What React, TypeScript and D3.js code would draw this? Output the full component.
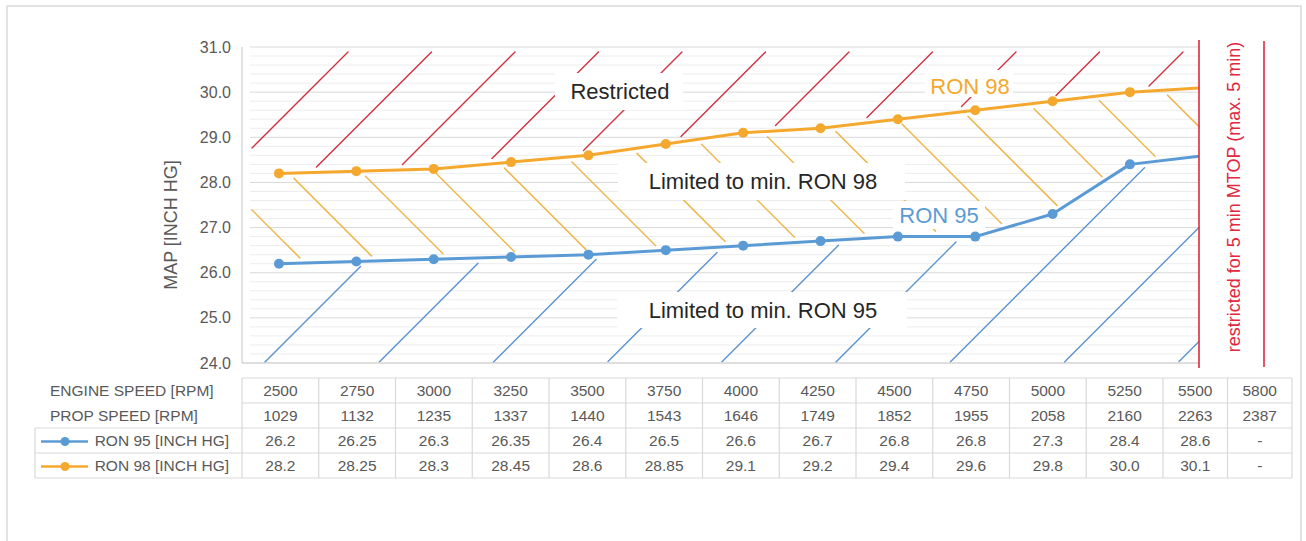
import React from 'react';
import * as d3 from 'd3';

// engine speed categories, prop speed and the two MAP limit series
const engineSpeed = ['2500', '2750', '3000', '3250', '3500', '3750', '4000', '4250', '4500', '4750', '5000', '5250', '5500', '5800'];
const propSpeed = ['1029', '1132', '1235', '1337', '1440', '1543', '1646', '1749', '1852', '1955', '2058', '2160', '2263', '2387'];
const ron95 = [26.2, 26.25, 26.3, 26.35, 26.4, 26.5, 26.6, 26.7, 26.8, 26.8, 27.3, 28.4, 28.6, null];
const ron98 = [28.2, 28.25, 28.3, 28.45, 28.6, 28.85, 29.1, 29.2, 29.4, 29.6, 29.8, 30.0, 30.1, null];
const yTicks = [24, 25, 26, 27, 28, 29, 30, 31];

const W = 1306;
const H = 541;
const FONT = '"Liberation Sans", Arial, sans-serif';
const GREY = '#595959';
const BLUE = '#5B9BD5';
const ORANGE = '#F5A82E';
const RED = '#E0283E';

const plotLeft = 242;
const plotRight = 1199;

type Pt = [number, number];
type Seg = { x1: number; y1: number; x2: number; y2: number };

const App: React.FC = () => {
  const y = d3.scaleLinear().domain([24, 31]).range([363, 47]);
  // chart categories (5800 has no data point)
  const x = d3.scaleBand<string>().domain(engineSpeed.slice(0, 13)).range([240.3, 1246]);
  const cx = (d: string) => (x(d) as number) + x.bandwidth() / 2;

  const pts = (vals: (number | null)[]) =>
    engineSpeed
      .map((d, i) => ({ d, v: vals[i] }))
      .filter(p => p.v !== null)
      .map(p => [cx(p.d), y(p.v as number)] as Pt);
  const p95 = pts(ron95);
  const p98 = pts(ron98);

  const line = d3.line<Pt>();

  // series cut at the red boundary line
  const cut = (p: Pt[]): Pt[] => {
    const out: Pt[] = [];
    for (let i = 0; i < p.length; i++) {
      if (p[i][0] <= plotRight) out.push(p[i]);
      else {
        const a = p[i - 1];
        const b = p[i];
        const t = (plotRight - a[0]) / (b[0] - a[0]);
        out.push([plotRight, a[1] + t * (b[1] - a[1])]);
        break;
      }
    }
    return out;
  };

  // piecewise-linear boundary of a series, as a function of x
  const curve = (p: Pt[]) =>
    d3.scaleLinear().domain(p.map(q => q[0])).range(p.map(q => q[1])).clamp(true);
  const c98 = curve(p98);
  const c95 = curve(p95);

  const gap = 5;
  const hatchLeft = 252;
  // clip a hatch line (y = f(x)) to the band between top(x) and bottom(x)
  const hatch = (f: (xx: number) => number, top: (xx: number) => number, bottom: (xx: number) => number): Seg[] => {
    const segs: Seg[] = [];
    let start: number | null = null;
    let last = hatchLeft;
    for (let xx = hatchLeft; xx <= plotRight; xx += 0.5) {
      const yy = f(xx);
      const inside = yy >= top(xx) && yy <= bottom(xx);
      if (inside && start === null) start = xx;
      if (!inside && start !== null) {
        segs.push({ x1: start, y1: f(start), x2: last, y2: f(last) });
        start = null;
      }
      last = xx;
    }
    if (start !== null) segs.push({ x1: start, y1: f(start), x2: last, y2: f(last) });
    return segs;
  };

  const redC = d3.range(400, 1500, 83.5);
  const yellowC = d3.range(42, 1200, 73.6);
  const blueC = d3.range(627, 1700, 114.2);

  const redSegs = redC.flatMap(c => hatch(xx => c - xx, () => y(31) + 5, xx => c98(xx) - gap));
  const yellowSegs = yellowC.flatMap(c => hatch(xx => xx - c, xx => c98(xx) + gap, xx => c95(xx) - gap));
  const blueSegs = blueC.flatMap(c => hatch(xx => c - xx, xx => c95(xx) + gap, () => y(24) - 1));

  const minor = d3.range(24.2, 31, 0.2).filter(v => Math.abs(v - Math.round(v)) > 0.05);

  // table layout
  const tA = d3.scaleBand<string>().domain(engineSpeed.slice(0, 12)).range([242, 1163]);
  const tB = d3.scaleBand<string>().domain(engineSpeed.slice(12)).range([1163, 1292]);
  const colX = (d: string) => (tA.domain().includes(d) ? (tA(d) as number) : (tB(d) as number));
  const colW = (d: string) => (tA.domain().includes(d) ? tA.bandwidth() : tB.bandwidth());
  const rowY = [378, 403, 428, 453, 478];
  const fmt = (v: number | null) => (v === null ? '-' : Number.isInteger(v) ? v.toFixed(1) : String(v));
  const rows = [
    { label: 'ENGINE SPEED [RPM]', cells: engineSpeed },
    { label: 'PROP SPEED [RPM]', cells: propSpeed },
    { label: 'RON 95 [INCH HG]', cells: ron95.map(fmt), color: BLUE },
    { label: 'RON 98 [INCH HG]', cells: ron98.map(fmt), color: ORANGE },
  ];

  const labels = [
    { text: 'Restricted', x: 620, y: 91, box: [555, 73, 128, 37], color: '#262626' },
    { text: 'Limited to min. RON 98', x: 763, y: 181, box: [618, 163, 287, 37], color: '#262626' },
    { text: 'Limited to min. RON 95', x: 763, y: 310, box: [617, 292, 290, 36], color: '#262626' },
    { text: 'RON 98', x: 970, y: 86, box: [925, 70, 88, 27], color: ORANGE },
    { text: 'RON 95', x: 939, y: 215, box: [893, 201, 92, 28], color: BLUE },
  ];

  return (
    <svg width={W} height={H} style={{ position: 'absolute', left: 0, top: 0, background: '#fff' }} fontFamily={FONT}>
      <rect x={7} y={6} width={1294} height={560} fill="#fff" stroke="#D9D9D9" strokeWidth={1.5} />

      {/* gridlines */}
      <g>
        {minor.map(v => (
          <line key={'m' + v} x1={250} x2={plotRight} y1={y(v)} y2={y(v)} stroke="#EDEDED" strokeWidth={1} />
        ))}
        {yTicks.slice(1).map(v => (
          <line key={'g' + v} x1={250} x2={plotRight} y1={y(v)} y2={y(v)} stroke="#D9D9D9" strokeWidth={1} />
        ))}
      </g>

      {/* hatching */}
      <g stroke="#D0303F" strokeWidth={1.4} strokeLinecap="round">
        {redSegs.map((s, i) => <line key={'r' + i} {...s} />)}
      </g>
      <g stroke="#ECB84E" strokeWidth={1.5} strokeLinecap="round">
        {yellowSegs.map((s, i) => <line key={'y' + i} {...s} />)}
      </g>
      <g stroke="#5B93D0" strokeWidth={1.4} strokeLinecap="round">
        {blueSegs.map((s, i) => <line key={'b' + i} {...s} />)}
      </g>

      {/* annotation labels */}
      {labels.map(l => (
        <g key={l.text}>
          <rect x={l.box[0]} y={l.box[1]} width={l.box[2]} height={l.box[3]} fill="#fff" />
          <text x={l.x} y={l.y} textAnchor="middle" dominantBaseline="central" fontSize={22} fill={l.color}>
            {l.text}
          </text>
        </g>
      ))}

      {/* axes */}
      <line x1={plotLeft} x2={plotLeft} y1={y(31)} y2={y(24)} stroke="#D9D9D9" strokeWidth={1.5} />
      <line x1={plotLeft} x2={plotRight} y1={y(24)} y2={y(24)} stroke="#BFBFBF" strokeWidth={1} />
      {yTicks.map(v => (
        <text key={v} x={231} y={y(v)} textAnchor="end" dominantBaseline="central" fontSize={16} fill={GREY}>
          {v.toFixed(1)}
        </text>
      ))}
      <text
        transform={`translate(171,${(y(31) + y(24)) / 2 + 20}) rotate(-90)`}
        textAnchor="middle"
        dominantBaseline="central"
        fontSize={18}
        fill={GREY}
      >
        MAP [INCH HG]
      </text>

      {/* series */}
      {[{ p: p95, c: BLUE }, { p: p98, c: ORANGE }].map(s => (
        <g key={s.c}>
          <path d={line(cut(s.p)) as string} fill="none" stroke={s.c} strokeWidth={3} strokeLinejoin="round" />
          {s.p.filter(q => q[0] < plotRight).map(([a, b], i) => <circle key={i} cx={a} cy={b} r={5} fill={s.c} />)}
        </g>
      ))}

      {/* restricted 5 min MTOP band */}
      <line x1={plotRight} x2={plotRight} y1={40} y2={368} stroke={RED} strokeWidth={1.6} />
      <line x1={1264} x2={1264} y1={41} y2={367} stroke={RED} strokeWidth={1.6} />
      <text
        transform={`translate(1234,197) rotate(-90)`}
        textAnchor="middle"
        dominantBaseline="central"
        fontSize={18}
        fill={RED}
      >
        restricted for 5 min MTOP (max. 5 min)
      </text>

      {/* data table */}
      <g fontSize={15.5} fill={GREY}>
        {rowY.map((ry, i) => (
          <line key={'h' + i} x1={i >= 2 ? 35 : 242} x2={1292} y1={ry} y2={ry} stroke="#D9D9D9" strokeWidth={1.2} />
        ))}
        <line x1={35} x2={35} y1={rowY[2]} y2={rowY[4]} stroke="#D9D9D9" strokeWidth={1.2} />
        {engineSpeed.map(d => (
          <line key={'v' + d} x1={colX(d)} x2={colX(d)} y1={rowY[0]} y2={rowY[4]} stroke="#D9D9D9" strokeWidth={1.2} />
        ))}
        <line x1={1292} x2={1292} y1={rowY[0]} y2={rowY[4]} stroke="#D9D9D9" strokeWidth={1.2} />
        {rows.map((r, i) => {
          const mid = (rowY[i] + rowY[i + 1]) / 2;
          return (
            <g key={r.label}>
              {r.color ? (
                <g>
                  <line x1={41} x2={88} y1={mid + 1} y2={mid + 1} stroke={r.color} strokeWidth={2.5} />
                  <circle cx={65} cy={mid + 1} r={4.5} fill={r.color} />
                  <text x={229} y={mid} textAnchor="end" dominantBaseline="central">{r.label}</text>
                </g>
              ) : (
                <text x={50} y={mid} dominantBaseline="central">{r.label}</text>
              )}
              {r.cells.map((c, j) => (
                <text
                  key={j}
                  x={colX(engineSpeed[j]) + colW(engineSpeed[j]) / 2}
                  y={mid}
                  textAnchor="middle"
                  dominantBaseline="central"
                >
                  {c}
                </text>
              ))}
            </g>
          );
        })}
      </g>
    </svg>
  );
};

export default App;
